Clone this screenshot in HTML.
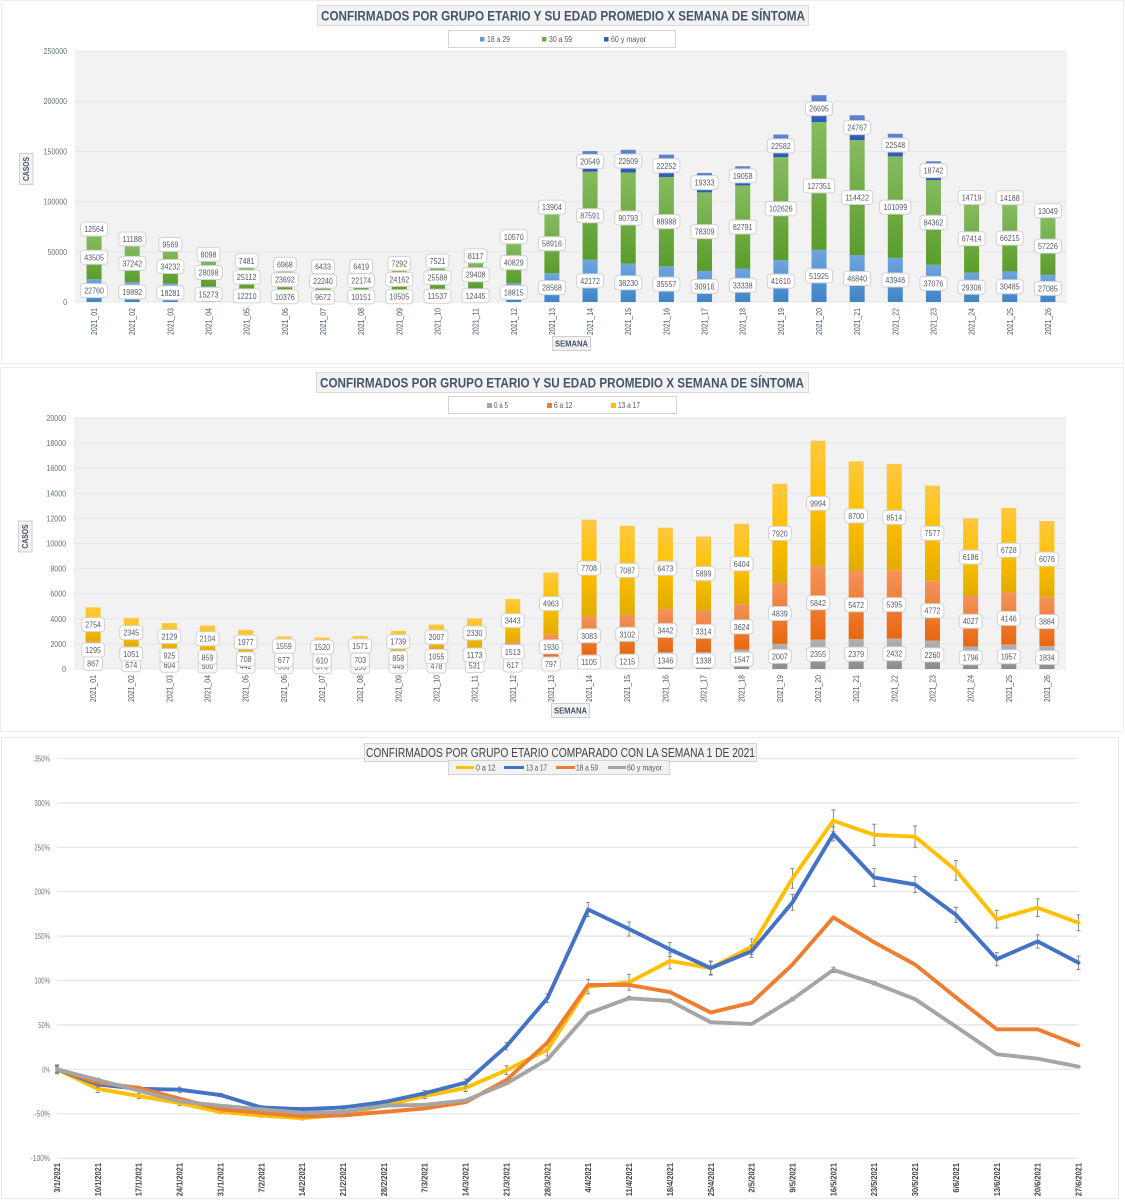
<!DOCTYPE html>
<html lang="es">
<head>
<meta charset="utf-8">
<title>Confirmados por grupo etario</title>
<style>
html,body{margin:0;padding:0;background:#fff;}
svg{display:block;font-family:"Liberation Sans",sans-serif;filter:blur(0.3px);}
</style>
</head>
<body>
<svg id="root" xmlns="http://www.w3.org/2000/svg" width="1125" height="1200" viewBox="0 0 1125 1200">
  <defs>
    <linearGradient id="g-blue" x1="0" y1="0" x2="0" y2="1"><stop offset="0" stop-color="#6FA5DF"/><stop offset="1" stop-color="#3E84C6"/></linearGradient>
    <linearGradient id="g-green" x1="0" y1="0" x2="0" y2="1"><stop offset="0" stop-color="#86BB60"/><stop offset="1" stop-color="#5A9C2C"/></linearGradient>
    <linearGradient id="g-navy" x1="0" y1="0" x2="0" y2="1"><stop offset="0" stop-color="#6285D0"/><stop offset="1" stop-color="#2A58B6"/></linearGradient>
    <linearGradient id="g-gray" x1="0" y1="0" x2="0" y2="1"><stop offset="0" stop-color="#B2B2B2"/><stop offset="1" stop-color="#8B8B8B"/></linearGradient>
    <linearGradient id="g-orange" x1="0" y1="0" x2="0" y2="1"><stop offset="0" stop-color="#F4935C"/><stop offset="1" stop-color="#E8670F"/></linearGradient>
    <linearGradient id="g-yellow" x1="0" y1="0" x2="0" y2="1"><stop offset="0" stop-color="#FFC841"/><stop offset=".5" stop-color="#FFC000"/><stop offset="1" stop-color="#E2AB00"/></linearGradient>
  </defs>

  <rect x="1.5" y="0.5" width="1122" height="363" fill="#fff" stroke="#EDEDED"/>
  <rect x="0.5" y="367.5" width="1123" height="364" fill="#fff" stroke="#EDEDED"/>
  <rect x="1.5" y="737.5" width="1117" height="461" fill="#fff" stroke="#E8E8E8"/>

  <rect x="75" y="51" width="992" height="251" fill="#F2F2F2"/>
  <rect x="74" y="418" width="992" height="251" fill="#F2F2F2"/>

  <g id="chart1"></g>
  <g id="chart2"></g>
  <g id="chart3"></g>

  <!-- chart 1 furniture -->
  <g>
    <rect x="317.5" y="5.5" width="491" height="20" fill="#F2F2F2" stroke="#DADADA"/>
    <text x="321" y="20.5" font-size="13.5" font-weight="700" fill="#44546A" textLength="484" lengthAdjust="spacingAndGlyphs">CONFIRMADOS POR GRUPO ETARIO Y SU EDAD PROMEDIO X SEMANA DE SÍNTOMA</text>
  </g>
  <g>
    <rect x="448.5" y="30.5" width="227" height="17" fill="#fff" stroke="#D4D4D4"/>
    <g><rect x="480" y="37" width="4.5" height="4.5" fill="#5B9BD5"/><text x="487" y="42" font-size="8" fill="#595959" textLength="23" lengthAdjust="spacingAndGlyphs">18 a 29</text></g>
    <g><rect x="542" y="37" width="4.5" height="4.5" fill="#70AD47"/><text x="549" y="42" font-size="8" fill="#595959" textLength="23" lengthAdjust="spacingAndGlyphs">30 a 59</text></g>
    <g><rect x="604" y="37" width="4.5" height="4.5" fill="#2F5CB8"/><text x="611" y="42" font-size="8" fill="#595959" textLength="35" lengthAdjust="spacingAndGlyphs">60 y mayor</text></g>
  </g>
  <g>
    <rect x="19.5" y="153.5" width="13.5" height="31" fill="#F2F2F2" stroke="#CFCFCF"/>
    <text transform="translate(29,181) rotate(-90)" font-size="8" font-weight="700" fill="#44546A" textLength="24" lengthAdjust="spacingAndGlyphs">CASOS</text>
  </g>
  <g>
    <rect x="552.5" y="336.5" width="38" height="14" fill="#F2F2F2" stroke="#CFCFCF"/>
    <text x="555" y="346.5" font-size="8" font-weight="700" fill="#44546A" textLength="33" lengthAdjust="spacingAndGlyphs">SEMANA</text>
  </g>

  <!-- chart 2 furniture -->
  <g>
    <rect x="316.5" y="372.5" width="492" height="20" fill="#F2F2F2" stroke="#DADADA"/>
    <text x="320" y="387.5" font-size="13.5" font-weight="700" fill="#44546A" textLength="484" lengthAdjust="spacingAndGlyphs">CONFIRMADOS POR GRUPO ETARIO Y SU EDAD PROMEDIO X SEMANA DE SÍNTOMA</text>
  </g>
  <g>
    <rect x="448.5" y="396.5" width="228" height="17" fill="#fff" stroke="#D4D4D4"/>
    <g><rect x="487" y="403" width="5" height="5" fill="#A5A5A5"/><text x="494" y="408" font-size="8" fill="#595959" textLength="14" lengthAdjust="spacingAndGlyphs">0 a 5</text></g>
    <g><rect x="547" y="403" width="5" height="5" fill="#ED7D31"/><text x="554" y="408" font-size="8" fill="#595959" textLength="18.5" lengthAdjust="spacingAndGlyphs">6 a 12</text></g>
    <g><rect x="611" y="403" width="5" height="5" fill="#FFC000"/><text x="618" y="408" font-size="8" fill="#595959" textLength="22" lengthAdjust="spacingAndGlyphs">13 a 17</text></g>
  </g>
  <g>
    <rect x="18.5" y="521" width="13.5" height="31" fill="#F2F2F2" stroke="#CFCFCF"/>
    <text transform="translate(28,548.5) rotate(-90)" font-size="8" font-weight="700" fill="#44546A" textLength="24" lengthAdjust="spacingAndGlyphs">CASOS</text>
  </g>
  <g>
    <rect x="551.5" y="703.5" width="38" height="14" fill="#F2F2F2" stroke="#CFCFCF"/>
    <text x="554" y="713.5" font-size="8" font-weight="700" fill="#44546A" textLength="33" lengthAdjust="spacingAndGlyphs">SEMANA</text>
  </g>

  <script>
    // ---------- chart 1 data ----------
    const weeks = ["2021_01","2021_02","2021_03","2021_04","2021_05","2021_06","2021_07","2021_08","2021_09","2021_10","2021_11","2021_12","2021_13","2021_14","2021_15","2021_16","2021_17","2021_18","2021_19","2021_20","2021_21","2021_22","2021_23","2021_24","2021_25","2021_26"];
    const adults18to29 = [22760,19892,18281,15273,12210,10376,9672,10151,10505,11537,12445,18815,28568,42172,38230,35557,30916,33338,41610,51925,46840,43946,37076,29306,30485,27085];
    const adults30to59 = [43505,37242,34232,28098,25112,23692,22240,22174,24162,25588,29408,40829,58916,87591,90793,88988,78309,82791,102626,127351,114422,101099,84362,67414,66215,57226];
    const adults60plus = [12564,11188,9569,8098,7481,6968,6433,6419,7292,7521,8117,10570,13904,20549,22609,22252,19333,19058,22582,26695,24767,22548,18742,14719,14188,13049];
    const chart1Ticks = [0,50000,100000,150000,200000,250000];

    // ---------- chart 2 data ----------
    const minors0to5 = [867,674,604,500,442,366,376,356,445,478,531,617,797,1105,1215,1346,1338,1547,2007,2355,2379,2432,2260,1796,1957,1834];
    const minors6to12 = [1295,1051,925,859,708,677,610,703,858,1055,1173,1513,1930,3083,3102,3442,3314,3624,4839,5842,5472,5395,4772,4027,4146,3884];
    const minors13to17 = [2754,2345,2129,2104,1977,1559,1520,1571,1739,2007,2330,3443,4963,7708,7087,6473,5899,6404,7920,9994,8700,8514,7577,6186,6728,6076];
    const chart2Ticks = [0,2000,4000,6000,8000,10000,12000,14000,16000,18000,20000];

    // ---------- chart 3 data ----------
    const dates = ["3/1/2021","10/1/2021","17/1/2021","24/1/2021","31/1/2021","7/2/2021","14/2/2021","21/2/2021","28/2/2021","7/3/2021","14/3/2021","21/3/2021","28/3/2021","4/4/2021","11/4/2021","18/4/2021","25/4/2021","2/5/2021","9/5/2021","16/5/2021","23/5/2021","30/5/2021","6/6/2021","13/6/2021","20/6/2021","27/6/2021"];
    const pct0to12 = [0,-22,-30,-38,-48,-52,-55,-51,-41,-30,-21,-1,22,93,98,122,114,138,215,280,264,262,224,169,182,165];
    const pct13to17 = [0,-17,-22,-23,-29,-43,-45,-43,-37,-27,-15,26,80,180,158,135,114,133,188,265,216,208,174,124,144,120];
    const pct18to59 = [0,-15,-21,-33,-45,-49,-53,-52,-48,-44,-37,-12,30,95,95,87,64,75,118,171,143,118,81,45,45,27];
    const pct60plus = [0,-12,-24,-36,-41,-45,-49,-48,-41,-40,-35,-16,11,63,80,77,53,51,79,112,97,79,48,17,12,3];
    const err0to12 = [5,4,3,3,2,2,2,2,2,3,4,5,7,8,9,9,8,9,11,12,12,12,11,10,10,9];
    const err13to17 = [4,3,3,3,2,2,2,2,2,3,4,4,5,8,8,8,7,7,9,8,10,9,8.5,7.5,7.5,7.5];
    const err60plus = [3,2,1,1,1,1,1,1,1,1,1,1,1,1,2,2,1,1,2,3,2,1,1,1,1,1];
    const chart3Ticks = [-100,-50,0,50,100,150,200,250,300,350];

    const NS = "http://www.w3.org/2000/svg";
    function make(tag, attrs, parent) {
      const n = document.createElementNS(NS, tag);
      for (const k in attrs) n.setAttribute(k, attrs[k]);
      parent.appendChild(n);
      return n;
    }

    function stackedChart(root, prefix, frame, ticks, categories, series) {
      const band = (frame.right - frame.left) / categories.length;
      const xCenter = i => frame.left + band * (i + 0.5);
      const yScale = v => frame.bottom - v / ticks[ticks.length - 1] * (frame.bottom - frame.top);

      ticks.forEach(t => {
        const line = make("line", {x1: frame.left, x2: frame.right, y1: yScale(t), y2: yScale(t), stroke: "#E6E8EE", "stroke-width": 1}, root);
        
        
        const s = String(t);
        const label = make("text", {x: frame.left - 8, y: yScale(t) + 3, "text-anchor": "end", "font-size": 8, fill: "#66707C", textLength: s.length * 3.9, lengthAdjust: "spacingAndGlyphs"}, root);
        label.textContent = s;
        
        
      });

      const barsLayer = make("g", {}, root);
      
      
      const labelsLayer = make("g", {}, root);
      
      

      categories.forEach((cat, i) => {
        const tick = make("text", {transform: "translate(" + (xCenter(i) + 3) + "," + (frame.bottom + 33) + ") rotate(-90)", "font-size": 8, fill: "#44546A", textLength: 27, lengthAdjust: "spacingAndGlyphs"}, root);
        tick.textContent = cat;
        
        
      });

      series.forEach(sr => {
        sr.values.forEach((v, i) => {
          let base = 0;
          for (const other of series) {
            if (other === sr) break;
            base += other.values[i];
          }
          const yTop = yScale(base + v);
          const yBottom = yScale(base);
          const bar = make("rect", {x: xCenter(i) - 7.5, y: yTop, width: 15, height: yBottom - yTop, fill: "url(#" + sr.fill + ")"}, barsLayer);
          
          

          const s = String(v);
          const w = 6 + s.length * 4.2;
          const yMid = (yTop + yBottom) / 2;
          const box = make("rect", {x: xCenter(i) - w / 2, y: yMid - 7, width: w, height: 14, rx: 3, fill: "#fff", stroke: "#D2D2D2", "stroke-width": 1}, labelsLayer);
          
          
          const txt = make("text", {x: xCenter(i), y: yMid + 3, "text-anchor": "middle", "font-size": 8, fill: "#555C66", textLength: s.length * 3.95, lengthAdjust: "spacingAndGlyphs"}, labelsLayer);
          txt.textContent = s;
          
          
        });
      });
    }

    stackedChart(document.getElementById("chart1"), "chart-1",
      {left: 75, right: 1067, top: 51, bottom: 302}, chart1Ticks, weeks, [
        {key: "18-a-29", values: adults18to29, fill: "g-blue"},
        {key: "30-a-59", values: adults30to59, fill: "g-green"},
        {key: "60-y-mayor", values: adults60plus, fill: "g-navy"}
      ]);

    stackedChart(document.getElementById("chart2"), "chart-2",
      {left: 74, right: 1066, top: 418, bottom: 669}, chart2Ticks, weeks, [
        {key: "0-a-5", values: minors0to5, fill: "g-gray"},
        {key: "6-a-12", values: minors6to12, fill: "g-orange"},
        {key: "13-a-17", values: minors13to17, fill: "g-yellow"}
      ]);

    // ---------- line chart ----------
    (function () {
      const root = document.getElementById("chart3");
      const left = 57, right = 1078.5, yZero = 1069.3, pxPerPct = 0.888;
      const xScale = i => left + (right - left) * i / (dates.length - 1);
      const yScale = v => yZero - v * pxPerPct;

      chart3Ticks.forEach(t => {
        const line = make("line", {x1: left, x2: right, y1: yScale(t), y2: yScale(t), stroke: "#E4E4E4", "stroke-width": 1.2}, root);
        
        
        const s = t + "%";
        const label = make("text", {x: 50, y: yScale(t) + 3, "text-anchor": "end", "font-size": 8, fill: "#777", textLength: s.length * 3.9, lengthAdjust: "spacingAndGlyphs"}, root);
        label.textContent = s;
        
        
      });

      dates.forEach((d, i) => {
        const tick = make("text", {transform: "translate(" + (xScale(i) + 3) + ",1163) rotate(-90)", "text-anchor": "end", "font-size": 8, "font-weight": 700, fill: "#444", textLength: d.length * 3.7, lengthAdjust: "spacingAndGlyphs"}, root);
        tick.textContent = d;
        
        
      });

      const lineSeries = [
        {key: "0-a-12", values: pct0to12, errors: err0to12, color: "#FFC000"},
        {key: "13-a-17", values: pct13to17, errors: err13to17, color: "#4472C4"},
        {key: "18-a-59", values: pct18to59, errors: null, color: "#ED7D31"},
        {key: "60-y-mayor", values: pct60plus, errors: err60plus, color: "#A5A5A5"}
      ];

      lineSeries.forEach(sr => {
        if (sr.errors) {
          sr.values.forEach((v, i) => {
            const x = xScale(i), y1 = yScale(v + sr.errors[i]), y2 = yScale(v - sr.errors[i]);
            const d = "M" + x + " " + y1 + "V" + y2 + "M" + (x - 2) + " " + y1 + "H" + (x + 2) + "M" + (x - 2) + " " + y2 + "H" + (x + 2);
            const eb = make("path", {d: d, fill: "none", stroke: "#7F7F7F", "stroke-width": 0.9}, root);
            
            
          });
        }
        const pts = sr.values.map((v, i) => xScale(i) + "," + yScale(v)).join(" ");
        const line = make("polyline", {points: pts, fill: "none", stroke: sr.color, "stroke-width": 3.9, "stroke-linejoin": "round", "stroke-linecap": "round"}, root);
        
        
      });
    })();
  </script>

  <!-- chart 3 furniture, above gridlines -->
  <g>
    <rect x="364.5" y="743.5" width="392" height="18" fill="#F2F2F2" stroke="#D4D4D4"/>
    <text x="366" y="757" font-size="13" fill="#444" textLength="389" lengthAdjust="spacingAndGlyphs">CONFIRMADOS POR GRUPO ETARIO COMPARADO CON LA SEMANA 1 DE 2021</text>
  </g>
  <g>
    <rect x="448.5" y="760.5" width="221" height="14" fill="#F2F2F2" stroke="#D4D4D4"/>
    <g><line x1="456" x2="474" y1="767.5" y2="767.5" stroke="#FFC000" stroke-width="3"/><text x="476" y="770.5" font-size="8" fill="#555" textLength="19.5" lengthAdjust="spacingAndGlyphs">0 a 12</text></g>
    <g><line x1="504" x2="524" y1="767.5" y2="767.5" stroke="#4472C4" stroke-width="3"/><text x="526" y="770.5" font-size="8" fill="#555" textLength="21" lengthAdjust="spacingAndGlyphs">13 a 17</text></g>
    <g><line x1="556" x2="575" y1="767.5" y2="767.5" stroke="#ED7D31" stroke-width="3"/><text x="576" y="770.5" font-size="8" fill="#555" textLength="22" lengthAdjust="spacingAndGlyphs">18 a 59</text></g>
    <g><line x1="608" x2="626" y1="767.5" y2="767.5" stroke="#A5A5A5" stroke-width="3"/><text x="627" y="770.5" font-size="8" fill="#555" textLength="35" lengthAdjust="spacingAndGlyphs">60 y mayor</text></g>
  </g>
</svg>
</body>
</html>
